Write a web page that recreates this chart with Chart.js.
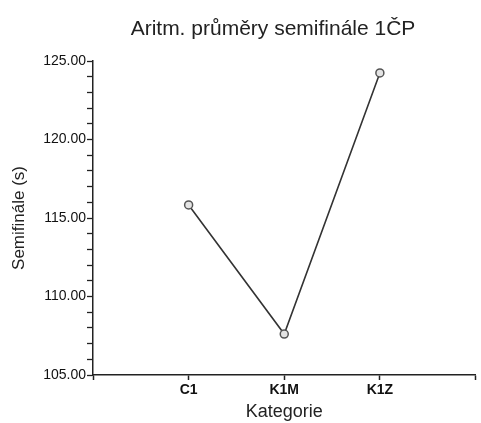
<!DOCTYPE html>
<html>
<head>
<meta charset="utf-8">
<script src="https://cdn.jsdelivr.net/npm/chart.js@4"></script>
<style>
  html, body { margin: 0; padding: 0; background: #fff; }
  #wrap { width: 481px; height: 423px; }
</style>
</head>
<body>
<div id="wrap"><canvas id="graph" width="481" height="423"></canvas></div>
<script>
// categories (x) et moyennes semifinale (y)
const categories = ['C1', 'K1M', 'K1Z'];
const averages = [115.83, 107.61, 124.24];
const yTicks = [105, 110, 115, 120, 125];

const points = categories.map((c, i) => ({x: i + 1, y: averages[i]}));

// titre dessine a la main pour le placer comme sur l'original
const titlePlugin = {
  id: 'titlePlugin',
  afterDraw(chart) {
    const ctx = chart.ctx;
    ctx.save();
    ctx.fillStyle = '#222';
    ctx.font = '21px "Liberation Sans", Arial, sans-serif';
    ctx.textAlign = 'center';
    ctx.textBaseline = 'middle';
    ctx.fillText('Aritm. průměry semifinále 1ČP', 273, 29);
    ctx.restore();
  }
};

const ctx = document.getElementById('graph').getContext('2d');
new Chart(ctx, {
  type: 'line',
  data: {
    datasets: [{
      data: points,
      borderColor: '#333',
      borderWidth: 1.6,
      pointRadius: 4,
      pointBorderWidth: 1.5,
      pointBorderColor: '#555',
      pointBackgroundColor: '#e4e4e4',
      tension: 0
    }]
  },
  options: {
    responsive: false,
    animation: false,
    layout: { padding: { top: 61, right: 2, left: 0, bottom: 0 } },
    plugins: { legend: { display: false }, tooltip: { enabled: false }, title: { display: false } },
    scales: {
      x: {
        type: 'linear',
        min: 0,
        max: 4,
        afterFit: s => { s.height = 48; },
        afterBuildTicks: s => { s.ticks = [0, 1, 2, 3, 4].map(v => ({value: v})); },
        grid: { drawOnChartArea: false, drawTicks: true, tickLength: 5, color: '#222', tickWidth: 1.5 },
        border: { display: true, color: '#222', width: 1.5 },
        ticks: {
          autoSkip: false,
          padding: 2,
          color: '#111',
          font: { family: '"Liberation Sans", Arial, sans-serif', size: 14, weight: 'bold' },
          callback: v => categories[v - 1] || ''
        },
        title: {
          display: true,
          text: 'Kategorie',
          color: '#222',
          padding: { top: 0, bottom: 0 },
          font: { family: '"Liberation Sans", Arial, sans-serif', size: 18 }
        }
      },
      y: {
        min: 105,
        max: 125,
        afterFit: s => { s.width = 93; },
        grid: {
          drawOnChartArea: false,
          drawTicks: true,
          tickLength: 6,
          color: '#222',
          tickWidth: 1.3
        },
        border: { display: true, color: '#222', width: 1.5 },
        ticks: {
          stepSize: 1,
          autoSkip: false,
          padding: 1,
          color: '#111',
          font: { family: '"Liberation Sans", Arial, sans-serif', size: 14 },
          callback: v => yTicks.includes(v) ? v.toFixed(2) : ''
        },
        title: {
          display: true,
          text: 'Semifinále (s)',
          color: '#222',
          padding: { top: 9, bottom: 0 },
          font: { family: '"Liberation Sans", Arial, sans-serif', size: 17 }
        }
      }
    }
  },
  plugins: [titlePlugin]
});
</script>
</body>
</html>
